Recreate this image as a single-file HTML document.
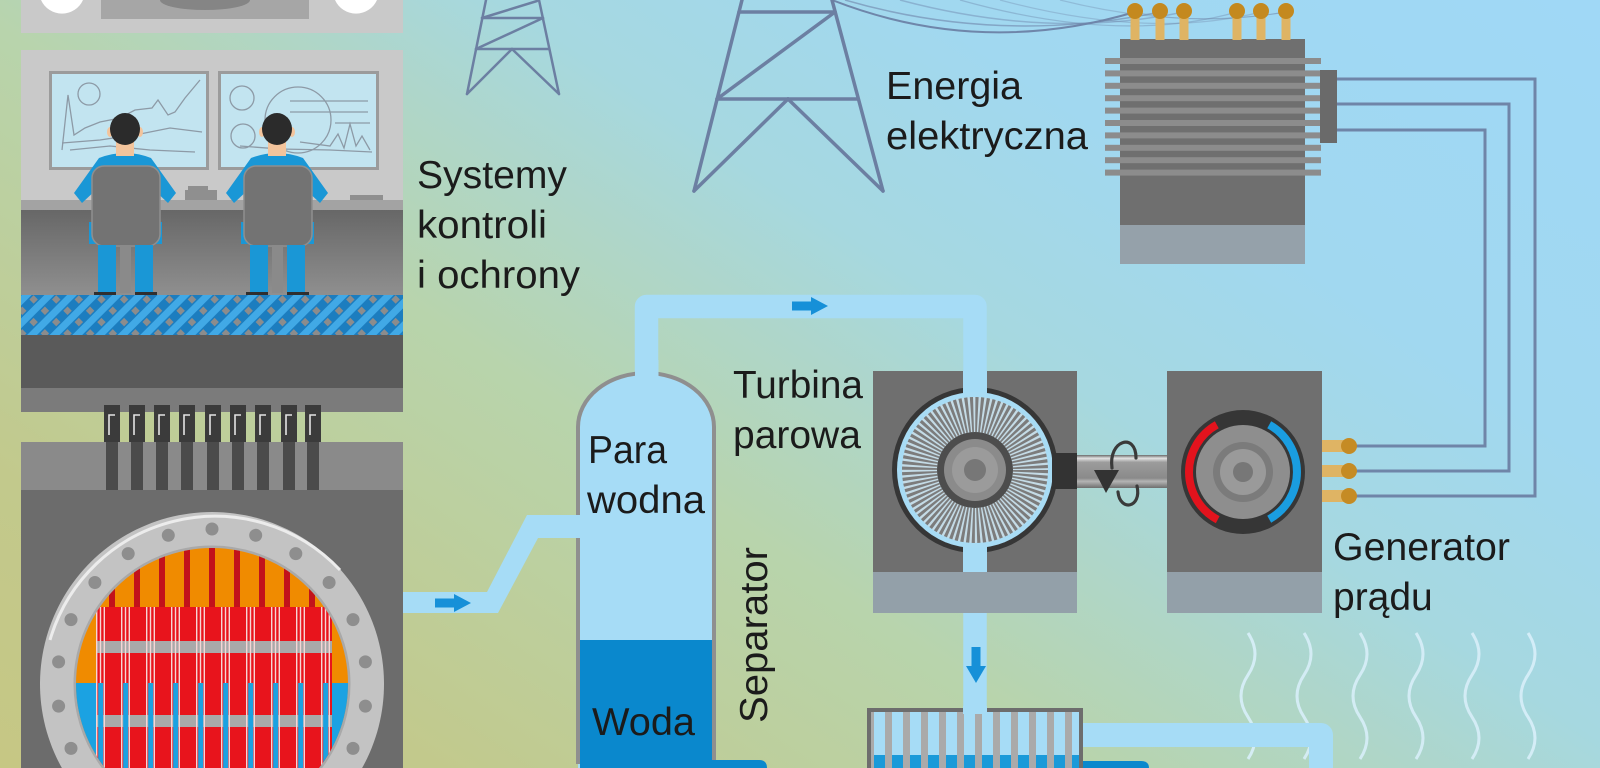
<!DOCTYPE html>
<html><head><meta charset="utf-8">
<style>
html,body{margin:0;padding:0;width:1600px;height:768px;overflow:hidden;background:#b5d4c0;}
svg{display:block;overflow:hidden}
text{font-family:"Liberation Sans",sans-serif;fill:#1b1b1b;font-size:39px}
</style></head><body>
<svg width="1600" height="768" viewBox="0 0 1600 768" xmlns="http://www.w3.org/2000/svg">
<defs>
<linearGradient id="bg" gradientUnits="userSpaceOnUse" x1="372" y1="1019" x2="1228" y2="-251">
 <stop offset="0" stop-color="#c6c784"/>
 <stop offset="0.16" stop-color="#c2c98c"/>
 <stop offset="0.40" stop-color="#b8d4ac"/>
 <stop offset="0.51" stop-color="#afd6c8"/>
 <stop offset="0.60" stop-color="#a6d8e0"/>
 <stop offset="0.75" stop-color="#a1d8f0"/>
 <stop offset="1" stop-color="#a0d8f6"/>
</linearGradient>
<linearGradient id="desk" x1="0" y1="0" x2="0" y2="1">
 <stop offset="0" stop-color="#676767"/>
 <stop offset="1" stop-color="#8f8f8f"/>
</linearGradient>
<linearGradient id="shaft" x1="0" y1="0" x2="0" y2="1">
 <stop offset="0" stop-color="#6a6a6a"/>
 <stop offset="0.1" stop-color="#e2e2e2"/>
 <stop offset="0.22" stop-color="#9c9c9c"/>
 <stop offset="0.7" stop-color="#8a8a8a"/>
 <stop offset="0.8" stop-color="#b4b4b4"/>
 <stop offset="1" stop-color="#6e6e6e"/>
</linearGradient>
<pattern id="lat" width="16" height="16" patternUnits="userSpaceOnUse" patternTransform="rotate(-45)">
 <rect width="16" height="16" fill="#1c7dbf"/>
 <rect width="16" height="7" fill="#41a9e6"/>
 <rect x="1" y="8.5" width="6" height="6" fill="#8c8c8c"/>
</pattern>
<pattern id="cl" x="94" y="0" width="25" height="10" patternUnits="userSpaceOnUse">
 <rect x="2" width="1.4" height="10" fill="#f6d6d6"/>
 <rect x="5.8" width="1.4" height="10" fill="#f6d6d6"/>
 <rect x="9.6" width="1.4" height="10" fill="#f6d6d6"/>
</pattern>
<pattern id="cb" x="94" y="0" width="25" height="10" patternUnits="userSpaceOnUse">
 <rect x="2" width="1.4" height="10" fill="#f6d6d6"/>
 <rect x="4.2" width="5" height="10" fill="#1ba2e2"/>
 <rect x="9.6" width="1.4" height="10" fill="#f6d6d6"/>
</pattern>
<pattern id="cs" x="871" y="0" width="18" height="10" patternUnits="userSpaceOnUse">
 <rect width="18" height="10" fill="#aaaaaa"/>
 <rect x="3" width="11" height="10" fill="#a6dcf6"/>
</pattern>
<pattern id="cs2" x="871" y="0" width="18" height="10" patternUnits="userSpaceOnUse">
 <rect width="18" height="10" fill="#aaaaaa"/>
 <rect x="3" width="11" height="10" fill="#1a9ad9"/>
</pattern>
<clipPath id="core"><circle cx="212" cy="684" r="136"/></clipPath>
<g id="rod">
 <rect x="0" y="0" width="16" height="37" fill="#3b3b3b"/>
 <path d="M5 30 V10 H11" stroke="#e4e4e4" stroke-width="1.6" fill="none"/>
 <rect x="2" y="37" width="12" height="48" fill="#4b4b4b"/>
</g>
<g id="pers">
 <path d="M99 158 Q125 148 151 158 L176 193 L168 203 L152 188 L152 235 L98 235 L98 188 L82 203 L74 193 Z" fill="#1a97d6"/>
 <rect x="116" y="139" width="18" height="17" fill="#f3c49c"/>
 <ellipse cx="110" cy="132" rx="3" ry="5" fill="#f3c49c"/>
 <ellipse cx="140" cy="132" rx="3" ry="5" fill="#f3c49c"/>
 <ellipse cx="125" cy="129" rx="15" ry="16" fill="#2b2b2b"/>
 <rect x="89" y="222" width="73" height="22" fill="#1a97d6"/>
 <rect x="92" y="166" width="68" height="80" rx="12" fill="#737373" stroke="#8f8f8f" stroke-width="1.5"/>
 <rect x="98" y="245" width="18" height="48" fill="#1a97d6"/>
 <rect x="135" y="245" width="18" height="48" fill="#1a97d6"/>
 <rect x="120" y="245" width="11" height="48" fill="#8a8a8a"/>
 <rect x="94" y="292" width="22" height="4" fill="#2f2f2f"/>
 <rect x="135" y="292" width="22" height="4" fill="#2f2f2f"/>
</g>
<g id="arr">
 <rect x="0" y="-4.5" width="22" height="9" fill="#1690d8"/>
 <polygon points="19,-9 36,0 19,9" fill="#1690d8"/>
</g>
</defs>

<!-- background -->
<rect width="1600" height="768" fill="url(#bg)"/>

<!-- power lines -->
<g fill="none" stroke="#6f86aa">
 <path d="M832 0 Q980 58 1135 12" stroke-width="2"/>
 <path d="M845 0 Q1000 45 1160 12" stroke-width="1.5" opacity="0.6"/>
 <path d="M900 0 Q1050 40 1184 12" stroke-width="1.5" opacity="0.45"/>
 <path d="M960 0 Q1120 45 1237 12" stroke-width="1.3" opacity="0.4"/>
 <path d="M1000 0 Q1150 40 1261 12" stroke-width="1.2" opacity="0.35"/>
 <path d="M1060 0 Q1180 30 1286 12" stroke-width="1.2" opacity="0.35"/>
 <path d="M1135 12 Q1200 26 1286 12" stroke-width="1" opacity="0.35"/>
</g>

<!-- towers -->
<g stroke="#6c7fa2" fill="none" stroke-linecap="round">
 <g stroke-width="3.5">
  <line x1="742" y1="0" x2="694" y2="191"/>
  <line x1="832" y1="0" x2="883" y2="191"/>
  <line x1="739" y1="12" x2="835" y2="12"/>
  <line x1="717" y1="99" x2="858" y2="99"/>
  <line x1="717" y1="99" x2="835" y2="12"/>
  <line x1="788" y1="99" x2="694" y2="191"/>
  <line x1="788" y1="99" x2="883" y2="191"/>
 </g>
 <g stroke-width="2.5">
  <line x1="486" y1="0" x2="467" y2="94"/>
  <line x1="539" y1="0" x2="559" y2="94"/>
  <line x1="482" y1="18" x2="543" y2="18"/>
  <line x1="476" y1="49" x2="549" y2="49"/>
  <line x1="476" y1="49" x2="543" y2="18"/>
  <line x1="482" y1="18" x2="537" y2="1"/>
  <line x1="512" y1="49" x2="467" y2="94"/>
  <line x1="512" y1="49" x2="559" y2="94"/>
 </g>
</g>

<!-- transformer -->
<rect x="1120" y="39" width="185" height="186" fill="#6f6f6f"/>
<rect x="1120" y="225" width="185" height="39" fill="#95a1aa"/>
<g fill="#8c8c8c">
 <rect x="1105" y="58" width="216" height="6"/>
 <rect x="1105" y="70.4" width="216" height="6"/>
 <rect x="1105" y="82.8" width="216" height="6"/>
 <rect x="1105" y="95.2" width="216" height="6"/>
 <rect x="1105" y="107.6" width="216" height="6"/>
 <rect x="1105" y="120" width="216" height="6"/>
 <rect x="1105" y="132.4" width="216" height="6"/>
 <rect x="1105" y="144.8" width="216" height="6"/>
 <rect x="1105" y="157.2" width="216" height="6"/>
 <rect x="1105" y="169.6" width="216" height="6"/>
</g>
<rect x="1320" y="70" width="17" height="73" fill="#6a6a6a"/>
<g fill="#dfb464">
 <rect x="1130.5" y="12" width="9" height="28"/>
 <rect x="1155.5" y="12" width="9" height="28"/>
 <rect x="1179.5" y="12" width="9" height="28"/>
 <rect x="1232.5" y="12" width="9" height="28"/>
 <rect x="1256.5" y="12" width="9" height="28"/>
 <rect x="1281.5" y="12" width="9" height="28"/>
</g>
<g fill="#c4891f">
 <circle cx="1135" cy="11" r="8"/>
 <circle cx="1160" cy="11" r="8"/>
 <circle cx="1184" cy="11" r="8"/>
 <circle cx="1237" cy="11" r="8"/>
 <circle cx="1261" cy="11" r="8"/>
 <circle cx="1286" cy="11" r="8"/>
</g>

<!-- wires to generator -->
<g fill="none" stroke="#6f85a8" stroke-width="3">
 <path d="M1337 79 H1535 V496 H1349"/>
 <path d="M1337 104 H1509 V471 H1349"/>
 <path d="M1337 130 H1485 V446 H1349"/>
</g>

<!-- heat waves -->
<g fill="none" stroke="#d8eff9" stroke-width="3" opacity="0.9">
 <path d="M1248 633 Q1262 654 1248 675 T1248 717 T1248 759"/>
 <path d="M1304 633 Q1318 654 1304 675 T1304 717 T1304 759"/>
 <path d="M1360 633 Q1374 654 1360 675 T1360 717 T1360 759"/>
 <path d="M1416 633 Q1430 654 1416 675 T1416 717 T1416 759"/>
 <path d="M1472 633 Q1486 654 1472 675 T1472 717 T1472 759"/>
 <path d="M1528 633 Q1542 654 1528 675 T1528 717 T1528 759"/>
</g>

<!-- main steam pipe -->
<path d="M646.5 385 V306.5 H975 V712" fill="none" stroke="#a6dcf6" stroke-width="23.5" stroke-linejoin="round"/>

<!-- separator -->
<path d="M578 768 V427 A68 54 0 0 1 714 427 V768 Z" fill="#a6dcf6"/>
<rect x="580" y="640" width="132" height="128" fill="#0a88cd"/>
<path d="M578 764 V427 A68 54 0 0 1 714 427 V764" fill="none" stroke="#8f8f8f" stroke-width="4"/>
<rect x="635" y="360" width="23.5" height="30" fill="#a6dcf6"/>
<path d="M700 760 H759 Q767 760 767 768 H700 Z" fill="#0a88cd"/>

<!-- reactor -> separator pipe -->
<polygon points="400,592 487,592 527,515 583,515 583,538 538,538 498,613 400,613" fill="#a6dcf6"/>

<!-- arrows -->
<use href="#arr" x="435" y="603"/>
<use href="#arr" x="792" y="306"/>
<use href="#arr" x="1172" y="735"/>
<g fill="#1690d8">
 <rect x="971.5" y="647" width="9" height="22"/>
 <polygon points="966,666 986,666 976,683"/>
</g>

<!-- turbine -->
<rect x="873" y="371" width="204" height="201" fill="#6f6f6f"/>
<circle cx="975" cy="470" r="83" fill="#363636"/>
<rect x="963" y="371" width="24" height="201" fill="#a6dcf6"/>
<circle cx="975" cy="470" r="78" fill="#a8dcf5"/>
<circle cx="975" cy="470" r="73" fill="#c4dbe6"/>
<circle cx="975" cy="470" r="55.5" fill="none" stroke="#7c7c7c" stroke-width="35" stroke-dasharray="2.5 1.86"/>
<circle cx="975" cy="470" r="38" fill="#4d4d4d"/>
<circle cx="975" cy="470" r="31" fill="#8b8b8b"/>
<circle cx="975" cy="470" r="23" fill="#9b9b9b"/>
<circle cx="975" cy="470" r="11" fill="#777777"/>
<rect x="873" y="572" width="204" height="41" fill="#93a0a9"/>

<!-- shaft -->
<rect x="1052" y="453" width="25" height="36" fill="#333333"/>
<rect x="1077" y="455" width="90" height="33" fill="url(#shaft)"/>
<rect x="1167" y="453" width="20" height="36" fill="#333333"/>
<g fill="none" stroke="#3a3a3a" stroke-width="3.2" stroke-linecap="round">
 <path d="M1112 468 C1108 440 1136 432 1136 458"/>
 <path d="M1118 492 C1120 512 1142 508 1137 486"/>
</g>
<polygon points="1094,470 1119,470 1106,493" fill="#333333"/>

<!-- generator -->
<rect x="1167" y="371" width="155" height="201" fill="#6f6f6f"/>
<circle cx="1243" cy="472" r="62" fill="#363636"/>
<circle cx="1243" cy="472" r="47" fill="#8e8e8e"/>
<path d="M1217.7 519.7 A54 54 0 0 1 1216.8 424.8" fill="none" stroke="#e3131d" stroke-width="8"/>
<path d="M1269.2 424.8 A54 54 0 0 1 1269.2 519.2" fill="none" stroke="#1a9de0" stroke-width="8"/>
<circle cx="1243" cy="472" r="30" fill="#7b7b7b"/>
<circle cx="1243" cy="472" r="23" fill="#9a9a9a"/>
<circle cx="1243" cy="472" r="10" fill="#777777"/>
<rect x="1167" y="572" width="155" height="41" fill="#93a0a9"/>
<g fill="#dfb464">
 <rect x="1322" y="440" width="27" height="12"/>
 <rect x="1322" y="465" width="27" height="12"/>
 <rect x="1322" y="490" width="27" height="12"/>
</g>
<g fill="#c58b24">
 <circle cx="1349" cy="446" r="8"/>
 <circle cx="1349" cy="471" r="8"/>
 <circle cx="1349" cy="496" r="8"/>
</g>

<!-- condenser outlet pipes -->
<path d="M1079 735 H1321 V768" fill="none" stroke="#a6dcf6" stroke-width="24" stroke-linejoin="round"/>
<path d="M1070 761 H1141 Q1149 761 1149 768 H1070 Z" fill="#0a88cd"/>

<!-- condenser -->
<rect x="867" y="708" width="216" height="60" fill="#6d6d6d"/>
<rect x="871" y="712" width="208" height="56" fill="url(#cs)"/>
<rect x="871" y="755" width="208" height="13" fill="url(#cs2)"/>
<rect x="963" y="706" width="24" height="8" fill="#a6dcf6"/>

<!-- LEFT COLUMN -->
<rect x="21" y="0" width="382" height="33" fill="#c9c9c9"/>
<rect x="101" y="0" width="208" height="19" fill="#a6a6a6"/>
<path d="M160 0 A45 10 0 0 0 250 0 Z" fill="#858585"/>
<path d="M41 0 A23 23 0 0 0 83 0 Z" fill="#ffffff"/>
<path d="M335 0 A23 23 0 0 0 377 0 Z" fill="#ffffff"/>

<!-- control room -->
<rect x="21" y="50" width="382" height="150" fill="#c9c9c9"/>
<rect x="49" y="71" width="160" height="99" fill="#9b9b9b"/>
<rect x="52" y="74" width="154" height="93" fill="#c2e4f0"/>
<rect x="218" y="71" width="161" height="99" fill="#9b9b9b"/>
<rect x="221" y="74" width="155" height="93" fill="#c2e4f0"/>
<g fill="none" stroke="#8d9aa6" stroke-width="1.3">
 <circle cx="89" cy="94" r="11"/>
 <polyline points="62,150 68,95 74,135 85,128 100,122 120,118 135,110 152,108 158,100 168,115 175,112 185,98 200,80"/>
 <polyline points="62,143 100,140 140,134 170,128 202,132"/>
 <polyline points="70,150 110,146 150,150 195,152"/>
 <circle cx="242" cy="98" r="12"/>
 <circle cx="243" cy="136" r="12"/>
 <circle cx="298" cy="120" r="33"/>
 <line x1="290" y1="101" x2="368" y2="101"/>
 <line x1="290" y1="112" x2="368" y2="112"/>
 <line x1="335" y1="123" x2="370" y2="123"/>
 <polyline points="300,142 330,146 338,134 344,148 350,124 356,146 362,136 370,150"/>
 <polyline points="240,146 280,149 330,150 372,152"/>
</g>
<rect x="21" y="200" width="382" height="10" fill="#a3a3a3"/>
<rect x="21" y="210" width="382" height="85" fill="url(#desk)"/>
<rect x="185" y="190" width="32" height="10" fill="#8f8f8f"/>
<rect x="188" y="186" width="20" height="6" fill="#8f8f8f"/>
<rect x="350" y="195" width="33" height="5" fill="#8f8f8f"/>
<use href="#pers"/>
<use href="#pers" x="152"/>
<rect x="21" y="295" width="382" height="40" fill="url(#lat)"/>
<rect x="21" y="335" width="382" height="53" fill="#5a5a5a"/>
<rect x="21" y="388" width="382" height="24" fill="#7b7b7b"/>

<!-- reactor panel -->
<rect x="21" y="442" width="382" height="48" fill="#8a8a8a"/>
<rect x="21" y="490" width="382" height="278" fill="#6c6c6c"/>
<use href="#rod" x="104" y="405"/>
<use href="#rod" x="129" y="405"/>
<use href="#rod" x="154" y="405"/>
<use href="#rod" x="179" y="405"/>
<use href="#rod" x="205" y="405"/>
<use href="#rod" x="230" y="405"/>
<use href="#rod" x="255" y="405"/>
<use href="#rod" x="281" y="405"/>
<use href="#rod" x="305" y="405"/>

<!-- vessel -->
<path d="M61.9 768 A172 172 0 1 1 362.1 768 Z" fill="#c3c3c3"/>
<path d="M50 640 A172 172 0 0 1 340 570" fill="none" stroke="#ececec" stroke-width="3"/>
<path d="M103.8 768 A137 137 0 1 1 320.2 768" fill="none" stroke="#a9a9a9" stroke-width="3"/>
<g fill="#8e8e8e">
 <circle cx="212" cy="529" r="6.5"/>
 <circle cx="255.7" cy="535.3" r="6.5"/>
 <circle cx="295.8" cy="553.6" r="6.5"/>
 <circle cx="329.1" cy="582.5" r="6.5"/>
 <circle cx="353" cy="619.6" r="6.5"/>
 <circle cx="365.4" cy="661.9" r="6.5"/>
 <circle cx="365.4" cy="706.1" r="6.5"/>
 <circle cx="353" cy="748.4" r="6.5"/>
 <circle cx="168.3" cy="535.3" r="6.5"/>
 <circle cx="128.2" cy="553.6" r="6.5"/>
 <circle cx="94.9" cy="582.5" r="6.5"/>
 <circle cx="71" cy="619.6" r="6.5"/>
 <circle cx="58.6" cy="661.9" r="6.5"/>
 <circle cx="58.6" cy="706.1" r="6.5"/>
 <circle cx="71" cy="748.4" r="6.5"/>
</g>
<g clip-path="url(#core)">
 <rect x="70" y="540" width="290" height="228" fill="#f08b00"/>
 <g fill="#c2121b">
  <rect x="109" y="540" width="6" height="68"/>
  <rect x="134" y="540" width="6" height="68"/>
  <rect x="159" y="540" width="6" height="68"/>
  <rect x="184" y="540" width="6" height="68"/>
  <rect x="209" y="540" width="6" height="68"/>
  <rect x="234" y="540" width="6" height="68"/>
  <rect x="259" y="540" width="6" height="68"/>
  <rect x="284" y="540" width="6" height="68"/>
  <rect x="309" y="540" width="6" height="68"/>
 </g>
 <rect x="70" y="683" width="290" height="85" fill="#1ba2e2"/>
 <rect x="96" y="607" width="236" height="161" fill="#e8141c"/>
 <rect x="96" y="641" width="236" height="12" fill="#a9a9a9"/>
 <rect x="96" y="715" width="236" height="12" fill="#a9a9a9"/>
 <rect x="94" y="607" width="240" height="76" fill="url(#cl)"/>
 <rect x="94" y="683" width="240" height="85" fill="url(#cb)"/>
</g>

<!-- labels -->
<text x="417" y="188" textLength="150" lengthAdjust="spacingAndGlyphs">Systemy</text>
<text x="417" y="238" textLength="130" lengthAdjust="spacingAndGlyphs">kontroli</text>
<text x="417" y="288" textLength="163" lengthAdjust="spacingAndGlyphs">i ochrony</text>
<text x="886" y="99" textLength="136" lengthAdjust="spacingAndGlyphs">Energia</text>
<text x="886" y="149" textLength="202" lengthAdjust="spacingAndGlyphs">elektryczna</text>
<text x="733" y="398" textLength="130" lengthAdjust="spacingAndGlyphs">Turbina</text>
<text x="733" y="448">parowa</text>
<text x="588" y="463" textLength="79" lengthAdjust="spacingAndGlyphs">Para</text>
<text x="587" y="513" textLength="118" lengthAdjust="spacingAndGlyphs">wodna</text>
<text x="592" y="735" textLength="103" lengthAdjust="spacingAndGlyphs">Woda</text>
<text transform="translate(767,723) rotate(-90)" textLength="176" lengthAdjust="spacingAndGlyphs">Separator</text>
<text x="1333" y="560" textLength="177" lengthAdjust="spacingAndGlyphs">Generator</text>
<text x="1333" y="610">prądu</text>
</svg>
</body></html>
